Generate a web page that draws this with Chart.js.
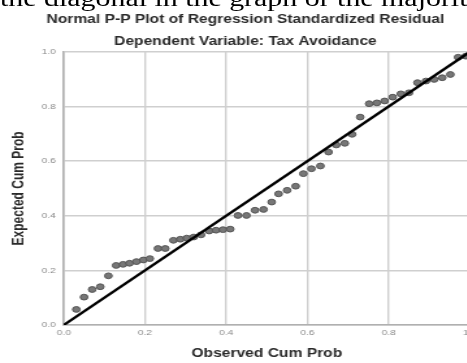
<!DOCTYPE html>
<html>
<head>
<meta charset="utf-8">
<script src="https://cdn.jsdelivr.net/npm/chart.js@4"></script>
<style>
  html, body { margin:0; padding:0; background:#fff; overflow:hidden; width:467px; height:363px; }
  #wrap { position:absolute; left:0; top:0; width:370px; height:363px; transform:scaleX(1.3); transform-origin:0 0; }
  #docText { position:absolute; left:0; top:-14px; white-space:nowrap; font-family:"Liberation Serif","Times New Roman",serif; font-size:23px; color:#000; line-height:26px; }
  canvas { position:absolute; left:0; top:0; }
</style>
</head>
<body>
<div id="wrap">
  <canvas id="pp" width="370" height="363"></canvas>
  <div id="docText">the diagonal in the graph or the majority</div>
</div>
<script>
// observed cumulative probability vs expected cumulative probability
const obsX = [0.031,0.050,0.070,0.090,0.110,0.129,0.146,0.162,0.179,0.196,0.212,0.232,0.250,0.270,0.287,0.303,0.320,0.338,0.358,0.375,0.392,0.410,0.429,0.450,0.471,0.492,0.512,0.529,0.550,0.571,0.590,0.610,0.632,0.652,0.671,0.692,0.710,0.730,0.752,0.771,0.790,0.810,0.830,0.850,0.871,0.892,0.912,0.932,0.952,0.971,0.990];
const expY = [0.057,0.102,0.130,0.140,0.180,0.218,0.222,0.226,0.232,0.238,0.243,0.280,0.280,0.310,0.314,0.318,0.322,0.330,0.344,0.347,0.349,0.351,0.401,0.401,0.420,0.423,0.450,0.480,0.493,0.508,0.554,0.572,0.582,0.633,0.659,0.665,0.698,0.761,0.810,0.813,0.820,0.834,0.846,0.850,0.887,0.893,0.899,0.905,0.917,0.980,0.984];
// reference diagonal
const lineX = [0, 1];
const lineY = [0, 1];
const tickStep = 0.2;

const titleText = "Normal P-P Plot of Regression Standardized Residual";
const subtitleText = "Dependent Variable: Tax Avoidance";
const xTitle = "Observed Cum Prob";
const yTitle = "Expected Cum Prob";

const FONT = "'Liberation Sans', Arial, sans-serif";
const gridColor = "#cfcfcf";
const tickColor = "#8a8a8a";
const textColor = "#2a2a2a";

const pts = obsX.map((x,i)=>({x, y:expY[i]}));
const diag = lineX.map((x,i)=>({x, y:lineY[i]}));

new Chart(document.getElementById("pp"), {
  type: "scatter",
  data: {
    datasets: [
      {
        type: "line",
        data: diag,
        borderColor: "#000",
        borderWidth: 2.4,
        pointRadius: 0,
        fill: false
      },
      {
        data: pts,
        backgroundColor: "#777",
        borderColor: "#555",
        borderWidth: 1,
        pointRadius: 2.9
      }
    ]
  },
  options: {
    responsive: false,
    animation: false,
    devicePixelRatio: 1,
    layout: { padding: { left: 7.5, right: 0, top: 0, bottom: 2 } },
    plugins: {
      legend: { display: false },
      tooltip: { enabled: false },
      title: {
        display: true, text: titleText, color: textColor,
        font: { family: FONT, size: 12, weight: "bold" },
        padding: { top: 12, bottom: 6 }
      },
      subtitle: {
        display: true, text: subtitleText, color: textColor,
        font: { family: FONT, size: 12, weight: "bold" },
        padding: { top: 2, bottom: 3 }
      }
    },
    scales: {
      x: {
        type: "linear", min: 0, max: 1,
        ticks: { stepSize: tickStep, color: tickColor, font: { family: FONT, size: 8 }, padding: 3, maxRotation: 0,
                 callback: (v)=>v.toFixed(1) },
        grid: { color: gridColor, lineWidth: 1.4, drawTicks: false },
        border: { color: "#b0b0b0", width: 1.6 },
        title: { display: true, text: xTitle, color: textColor, font: { family: FONT, size: 12, weight: "bold" }, padding: { top: 6, bottom: 0 } }
      },
      y: {
        type: "linear", min: 0, max: 1,
        ticks: { stepSize: tickStep, color: tickColor, font: { family: FONT, size: 8 }, padding: 6,
                 callback: (v)=>v.toFixed(1) },
        grid: { color: gridColor, lineWidth: 1.4, drawTicks: false },
        border: { color: "#b0b0b0", width: 1.6 },
        title: { display: true, text: yTitle, color: textColor, font: { family: FONT, size: 12, weight: "bold" }, padding: { top: 0, bottom: 4 } }
      }
    }
  }
});
</script>
</body>
</html>
